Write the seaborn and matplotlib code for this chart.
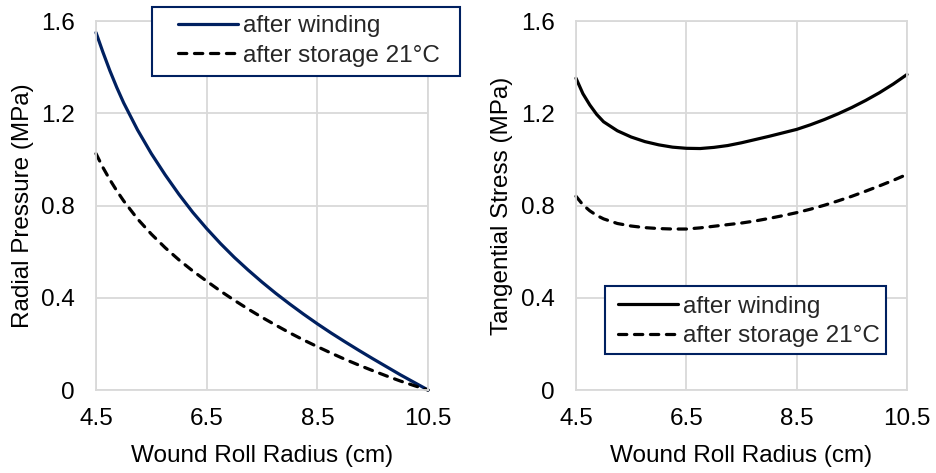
import matplotlib
matplotlib.use("Agg")
import matplotlib.pyplot as plt
from matplotlib.patches import Rectangle
import seaborn as sns
import pandas as pd

# ---- data ----
radius = [4.5, 4.625, 4.75, 4.875, 5.0, 5.25, 5.5, 5.75, 6.0, 6.25, 6.5, 6.75, 7.0, 7.25, 7.5,
          7.75, 8.0, 8.25, 8.5, 8.75, 9.0, 9.25, 9.5, 9.75, 10.0, 10.25, 10.5]

radial_winding = [1.55, 1.465, 1.385, 1.312, 1.245, 1.128, 1.025, 0.933, 0.848, 0.77, 0.70, 0.635, 0.575,
                  0.52, 0.468, 0.419, 0.373, 0.329, 0.287, 0.247, 0.209, 0.172, 0.136, 0.101, 0.066,
                  0.033, 0.0]
radial_storage = [1.025, 0.965, 0.912, 0.864, 0.82, 0.742, 0.676, 0.617, 0.564, 0.516, 0.472, 0.429, 0.389,
                  0.351, 0.315, 0.281, 0.248, 0.217, 0.188, 0.160, 0.133, 0.108, 0.084, 0.061, 0.039,
                  0.019, 0.0]

tang_winding = [1.352, 1.285, 1.236, 1.195, 1.163, 1.124, 1.097, 1.077, 1.063, 1.053, 1.048, 1.047, 1.052,
                1.06, 1.072, 1.086, 1.10, 1.115, 1.13, 1.15, 1.1725, 1.1975, 1.225, 1.2555, 1.289,
                1.3265, 1.368]
tang_storage = [0.84, 0.803, 0.777, 0.757, 0.742, 0.722, 0.711, 0.704, 0.700, 0.698, 0.698, 0.703, 0.710,
                0.717, 0.724, 0.733, 0.744, 0.756, 0.769, 0.784, 0.801, 0.82, 0.84, 0.862, 0.885,
                0.909, 0.935]

series_labels = ["after winding", "after storage 21°C"]
x_ticks = [4.5, 6.5, 8.5, 10.5]
y_ticks = [0, 0.4, 0.8, 1.2, 1.6]
y_tick_labels = ["0", "0.4", "0.8", "1.2", "1.6"]
x_label = "Wound Roll Radius (cm)"
y_labels = ["Radial Pressure (MPa)", "Tangential Stress (MPa)"]

sns.set_theme(style="white")
plt.rcParams["font.family"] = ["Liberation Sans", "DejaVu Sans"]

NAVY = "#002060"
GRID = "#d9d9d9"
FS = 17.5
W, H = 936, 473

fig = plt.figure(figsize=(W / 100, H / 100), dpi=100)
ax1 = fig.add_axes([96 / W, 1 - 390 / H, 332 / W, 369 / H])
ax2 = fig.add_axes([576 / W, 1 - 390 / H, 331 / W, 369 / H])

df1 = pd.DataFrame({"r": radius, "w": radial_winding, "s": radial_storage})
df2 = pd.DataFrame({"r": radius, "w": tang_winding, "s": tang_storage})

lw = 2.3
dash = (2.6, 2.4)

for ax, df, wcolor, ylab in [(ax1, df1, NAVY, y_labels[0]), (ax2, df2, "black", y_labels[1])]:
    sns.lineplot(data=df, x="r", y="w", ax=ax, color=wcolor, linewidth=lw,
                 label=series_labels[0], legend=False)
    sns.lineplot(data=df, x="r", y="s", ax=ax, color="black", linewidth=lw,
                 label=series_labels[1], legend=False)
    ax.lines[0].set_solid_joinstyle("round")
    ax.lines[1].set_dashes(dash)
    ax.lines[1].set_dash_capstyle("round")
    for ln in ax.lines:
        ln.set_clip_on(False)
    ax.set_xlim(4.5, 10.5)
    ax.set_ylim(0, 1.6)
    ax.set_xticks(x_ticks)
    ax.set_xticklabels([f"{v:g}" for v in x_ticks])
    ax.set_yticks(y_ticks)
    ax.set_yticklabels(y_tick_labels)
    ax.grid(True, color=GRID, linewidth=1.3)
    ax.set_axisbelow(True)
    for sp in ax.spines.values():
        sp.set_color(GRID)
        sp.set_linewidth(1.3)
    ax.tick_params(axis="both", length=0, labelsize=FS, colors="black")
    ax.tick_params(axis="y", pad=15.5)
    ax.tick_params(axis="x", pad=13)
    ax.set_xlabel(x_label, fontsize=FS, color="black")
    ax.set_ylabel(ylab, fontsize=FS, color="black")
    ax.xaxis.set_label_coords(0.5, (390 - 456) / 369)
    ax.xaxis.label.set_va("center")

ax1.yaxis.set_label_coords((23 - 96) / 332, 0.5)
ax2.yaxis.set_label_coords((502 - 576) / 331, 0.5)
for ax in (ax1, ax2):
    ax.yaxis.label.set_va("center")

# legends: white box with navy frame, contents placed inside
boxes = [((152, 7, 460, 76), (178, 41), ax1),
         ((605, 286, 886, 354), (618, 321.5), ax2)]
for (x0, y0, x1, y1), (hx, hy), ax in boxes:
    rect = Rectangle((x0 / W, 1 - y1 / H), (x1 - x0) / W, (y1 - y0) / H,
                     transform=fig.transFigure, facecolor="white", edgecolor=NAVY,
                     linewidth=1.5, zorder=4)
    fig.add_artist(rect)
    h, l = ax.get_legend_handles_labels()
    leg = fig.legend(h, l, loc="center left", bbox_to_anchor=(hx / W, 1 - hy / H),
                     frameon=False, fontsize=FS, handlelength=2.47, handletextpad=0.2,
                     labelspacing=0.3, borderpad=0, borderaxespad=0)
    leg.set_zorder(5)

fig.savefig("out.png", dpi=100)
